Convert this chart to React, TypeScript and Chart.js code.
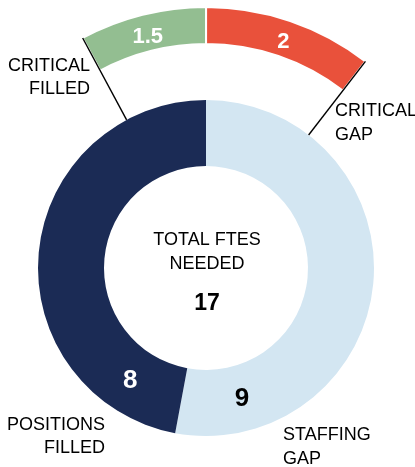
import React, { useEffect, useRef } from "react";
import { Chart, registerables } from "chart.js";

Chart.register(...registerables);

// ---- data ----
const mainCategories = ["STAFFING GAP", "POSITIONS FILLED"];
const mainValues = [9, 8];
const criticalCategories = ["CRITICAL FILLED", "CRITICAL GAP"];
const criticalValues = [1.5, 2];
const totalLabelLines = ["TOTAL FTES", "NEEDED"];
const totalValue = 17;

// ---- styles ----
const mainColors = ["#d3e6f2", "#1b2b55"];
const criticalColors = ["#93be91", "#e9513b"];
const mainValueColors = ["#000000", "#ffffff"];
const FONT = '"Liberation Sans", Arial, sans-serif';

// angle (degrees clockwise from top) where the main ring values are written
const mainValueAngles = [164.5, 214.2];

const labelsPlugin = {
  id: "customLabels",
  afterDatasetsDraw(chart: any) {
    const ctx = chart.ctx as CanvasRenderingContext2D;
    const outer = chart.getDatasetMeta(0).data as any[];
    const main = chart.getDatasetMeta(2).data as any[];
    const cx = main[0].x;
    const cy = main[0].y;
    const mOuter = main[0].outerRadius;
    const mInner = main[0].innerRadius;

    ctx.save();
    // leader lines
    ctx.strokeStyle = "#000";
    ctx.lineWidth = 1.4;
    const radial = (a: number, r1: number, r2: number) => {
      ctx.beginPath();
      ctx.moveTo(cx + r1 * Math.cos(a), cy + r1 * Math.sin(a));
      ctx.lineTo(cx + r2 * Math.cos(a), cy + r2 * Math.sin(a));
      ctx.stroke();
    };
    radial(outer[0].startAngle, outer[0].outerRadius, mOuter);
    radial(outer[outer.length - 1].endAngle, outer[outer.length - 1].outerRadius, mOuter);

    ctx.textBaseline = "middle";
    ctx.textAlign = "center";

    // critical values
    ctx.fillStyle = "#ffffff";
    ctx.font = `bold 22px ${FONT}`;
    outer.forEach((arc, i) => {
      const a = (arc.startAngle + arc.endAngle) / 2;
      const r = (arc.innerRadius + arc.outerRadius) / 2 - 3;
      ctx.fillText(String(criticalValues[i]), cx + r * Math.cos(a), cy + r * Math.sin(a) + 1);
    });

    // main values
    ctx.font = `bold 26px ${FONT}`;
    main.forEach((arc, i) => {
      const a = ((mainValueAngles[i] - 90) * Math.PI) / 180;
      const r = (mOuter + mInner) / 2;
      ctx.fillStyle = mainValueColors[i];
      ctx.fillText(String(mainValues[i]), cx + r * Math.cos(a), cy + r * Math.sin(a) + 1);
    });

    // center text
    ctx.fillStyle = "#000";
    ctx.font = `18px ${FONT}`;
    ctx.fillText(totalLabelLines[0], cx + 1, cy - 28);
    ctx.fillText(totalLabelLines[1], cx + 1, cy - 4);
    ctx.font = `bold 23px ${FONT}`;
    ctx.fillText(String(totalValue), cx + 1, cy + 36);

    // category labels
    ctx.font = `18px ${FONT}`;
    const lines = (t: string) => t.split(" ");
    ctx.textAlign = "right";
    lines(criticalCategories[0]).forEach((s, k) => ctx.fillText(s, 90, 66 + k * 23));
    lines(mainCategories[1]).forEach((s, k) => ctx.fillText(s, 105, 425 + k * 23));
    ctx.textAlign = "left";
    lines(criticalCategories[1]).forEach((s, k) => ctx.fillText(s, 335, 111 + k * 24));
    lines(mainCategories[0]).forEach((s, k) => ctx.fillText(s, 283, 435 + k * 24));
    ctx.restore();
  },
};

export default function App() {
  const ref = useRef<HTMLCanvasElement>(null);
  useEffect(() => {
    if (!ref.current) return;
    const chart = new Chart(ref.current, {
      type: "doughnut",
      data: {
        labels: mainCategories,
        datasets: [
          {
            label: "critical",
            data: criticalValues,
            backgroundColor: criticalColors,
            borderColor: "#ffffff",
            borderWidth: 2,
            weight: 37,
            rotation: -28.2,
            circumference: 65.85,
            clip: false,
          } as any,
          {
            label: "spacer",
            data: [1],
            backgroundColor: "rgba(0,0,0,0)",
            borderWidth: 0,
            weight: 56,
            clip: false,
          } as any,
          {
            label: "main",
            data: mainValues,
            backgroundColor: mainColors,
            borderWidth: 0,
            weight: 66,
            clip: false,
          } as any,
        ],
      },
      options: {
        animation: false,
        responsive: true,
        maintainAspectRatio: false,
        events: [],
        radius: 261,
        cutout: "39.08%",
        layout: { padding: { left: 0, right: 3, top: 69, bottom: 0 } },
        plugins: { legend: { display: false }, tooltip: { enabled: false } },
      } as any,
      plugins: [labelsPlugin],
    });
    return () => chart.destroy();
  }, []);
  return (
    <div style={{ position: "absolute", left: 0, top: 0, width: 415, height: 467, background: "#fff" }}>
      <canvas ref={ref} />
    </div>
  );
}
